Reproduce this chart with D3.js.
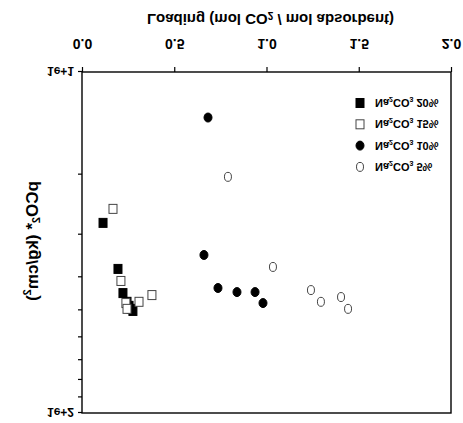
<!DOCTYPE html>
<html lang="en">
<head>
<meta charset="UTF-8">
<script src="https://cdn.jsdelivr.net/npm/d3@7"></script>
<title>pCO2 vs loading</title>
<style>
    body { margin: 0; background: white; }
    text { font-family: "Liberation Sans", Arial, sans-serif; font-weight: bold; fill: #000; }
</style>
</head>
<body>
<script>
    // values (loading, pCO2*)
    const seriesNames = ["Na2CO3 20%", "Na2CO3 15%", "Na2CO3 10%", "Na2CO3 5%"];
    const conc = ["20%", "15%", "10%", "5%"];

    const load20 = [0.114, 0.195, 0.222, 0.244, 0.255, 0.266, 0.276];
    const pco20 = [27.7, 37.8, 44.5, 47.2, 48.5, 49.5, 50.2];

    const load15 = [0.168, 0.211, 0.238, 0.244, 0.309, 0.379];
    const pco15 = [25.2, 41.0, 47.6, 49.5, 47.2, 45.1];

    const load10 = [0.683, 0.661, 0.737, 0.840, 0.938, 0.981];
    const pco10 = [13.6, 34.4, 43.0, 44.2, 44.2, 47.6];

    const load5 = [0.791, 1.035, 1.241, 1.295, 1.404, 1.442];
    const pco5 = [20.3, 37.3, 43.6, 47.2, 45.7, 49.5];

    const xTicks = [0, 0.5, 1.0, 1.5, 2.0];
    const yTicks = [10, 20, 30, 40, 50, 60, 70, 80, 90, 100];

    const width = 463, height = 423;
    const svg = d3.select("body").append("svg")
        .attr("width", width)
        .attr("height", height);

    // the reference picture is mirrored top to bottom, so draw the chart then flip it
    const g = svg.append("g").attr("transform", `translate(0,${height}) scale(1,-1)`);

    const x = d3.scaleLinear().domain([0, 2]).range([82, 451]);
    const y = d3.scaleLog().domain([10, 100]).range([351, 10]);

    const series = [
        { name: seriesNames[0], load: load20, p: pco20, shape: "square", filled: true },
        { name: seriesNames[1], load: load15, p: pco15, shape: "square", filled: false },
        { name: seriesNames[2], load: load10, p: pco10, shape: "circle", filled: true },
        { name: seriesNames[3], load: load5, p: pco5, shape: "circle", filled: false }
    ];

    // x axis
    const xAxis = g.append("g")
        .attr("transform", "translate(0,351)")
        .call(d3.axisBottom(x).tickValues(xTicks).tickFormat(d3.format(".1f")).tickSize(5).tickSizeOuter(0));
    xAxis.selectAll("text")
        .attr("y", 28).attr("dy", "0.35em")
        .style("font-size", "14px");

    // y axis (log)
    const yAxis = g.append("g")
        .attr("transform", "translate(82,0)")
        .call(d3.axisLeft(y).tickValues(yTicks)
            .tickFormat(d => d === 10 ? "1e+1" : d === 100 ? "1e+2" : "")
            .tickSize(4).tickSizeOuter(0));
    yAxis.selectAll("text")
        .attr("x", -8).attr("dy", "0.35em")
        .style("font-size", "12px");

    g.selectAll(".domain").remove();
    g.selectAll(".tick line").attr("stroke", "#000").attr("stroke-width", 1.2);

    // frame
    g.append("rect")
        .attr("x", x(0)).attr("y", y(100))
        .attr("width", x(2) - x(0)).attr("height", y(10) - y(100))
        .attr("fill", "none").attr("stroke", "#000").attr("stroke-width", 1.4);

    // axis titles
    const xt = g.append("text")
        .attr("x", (x(0) + x(2)) / 2 + 4).attr("y", 403)
        .attr("text-anchor", "middle").attr("dominant-baseline", "central")
        .style("font-size", "15px");
    xt.append("tspan").text("Loading (mol CO");
    xt.append("tspan").attr("dy", 4).style("font-size", "10px").text("2");
    xt.append("tspan").attr("dy", -4).text(" / mol absorbent)");

    const yt = g.append("text")
        .attr("transform", "translate(32,182) rotate(-90)")
        .attr("text-anchor", "middle").attr("dominant-baseline", "central")
        .style("font-size", "17px");
    yt.append("tspan").text("pCO");
    yt.append("tspan").attr("dy", 4).style("font-size", "11px").text("2");
    yt.append("tspan").attr("dy", -4).text("* (kg/cm");
    yt.append("tspan").attr("dy", -5).style("font-size", "11px").text("2");
    yt.append("tspan").attr("dy", 5).text(")");

    function drawMarker(sel, s) {
        if (s.shape === "square") {
            sel.append("rect")
                .attr("x", -4).attr("y", -4.5).attr("width", 8).attr("height", 9)
                .attr("fill", s.filled ? "#000" : "#fff")
                .attr("stroke", s.filled ? "#000" : "#444")
                .attr("stroke-width", 1);
        } else {
            sel.append("ellipse")
                .attr("rx", s.filled ? 4 : 3.5).attr("ry", 4.5)
                .attr("fill", s.filled ? "#000" : "#fff")
                .attr("stroke", s.filled ? "#000" : "#444")
                .attr("stroke-width", 1);
        }
    }

    // points
    series.forEach(s => {
        const pts = s.load.map((v, i) => ({ load: v, p: s.p[i] }));
        g.append("g").selectAll("g")
            .data(pts)
            .join("g")
            .attr("transform", d => `translate(${x(d.load)},${y(d.p)})`)
            .each(function() { drawMarker(d3.select(this), s); });
    });

    // legend
    const legend = g.append("g");
    series.forEach((s, i) => {
        const row = legend.append("g").attr("transform", `translate(360,${320 - i * 21.3})`);
        drawMarker(row, s);
        const t = row.append("text")
            .attr("x", 15).attr("dominant-baseline", "central")
            .style("font-size", "11px");
        t.append("tspan").text("Na");
        t.append("tspan").attr("dy", 3).style("font-size", "7px").text("2");
        t.append("tspan").attr("dy", -3).text("CO");
        t.append("tspan").attr("dy", 3).style("font-size", "7px").text("3");
        t.append("tspan").attr("dy", -3).text(" " + conc[i]);
    });
</script>
</body>
</html>
